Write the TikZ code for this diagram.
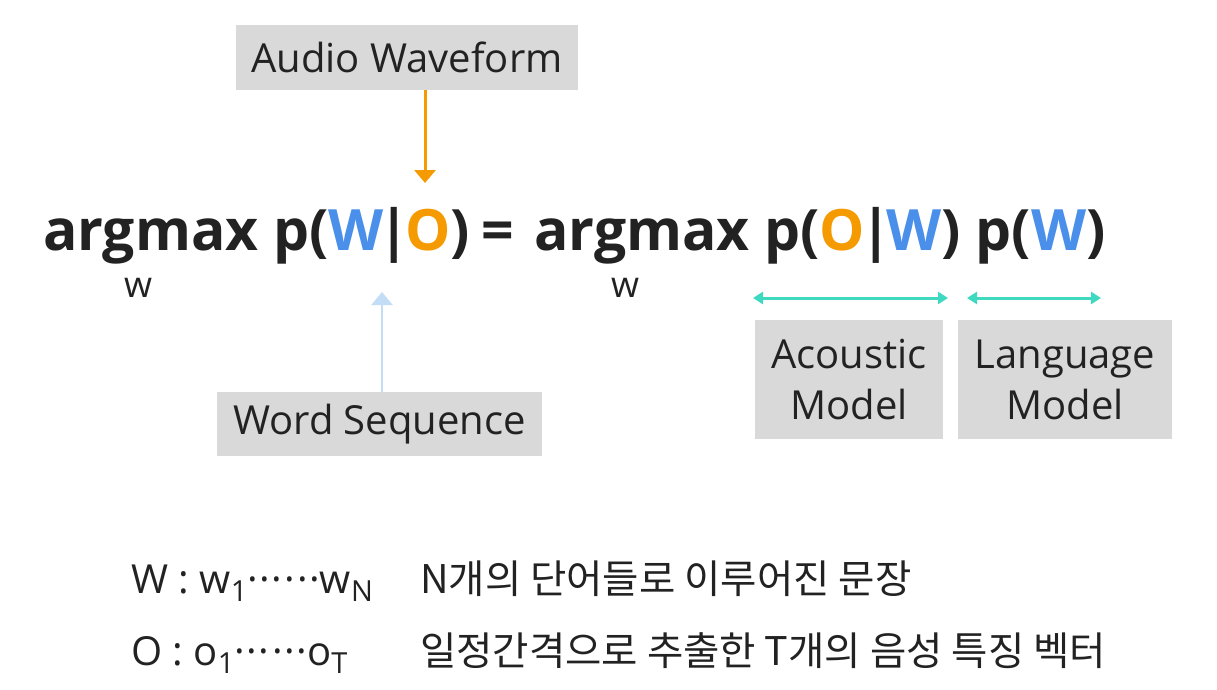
\documentclass[tikz,border=0pt]{standalone}
\usepackage{fontspec}
\setmainfont{Open Sans}
\newfontfamily\kofont{Noto Sans CJK KR}
\usetikzlibrary{arrows.meta}
\usetikzlibrary{positioning}
\definecolor{wblue}{HTML}{4A8FEA}
\definecolor{oorange}{HTML}{F59A00}
\definecolor{spanteal}{HTML}{3FD9C2}
\definecolor{paleblue}{HTML}{C2DDF5}
\definecolor{boxgray}{HTML}{D9D9D9}
\definecolor{ink}{HTML}{222222}
\newcommand{\Wc}{\textcolor{wblue}{W}}
\newcommand{\Oc}{\textcolor{oorange}{O}}
\newcommand{\given}{\kern-5pt|\kern-5pt}
\newcommand{\lowsub}[1]{\raisebox{-8pt}{\fontsize{29}{29}\selectfont #1}}
\newcommand{\dotrun}{\textperiodcentered\kern1.6pt\textperiodcentered\kern1.6pt\textperiodcentered\kern2.4pt\textperiodcentered\kern1.6pt\textperiodcentered\kern1.6pt\textperiodcentered}
\tikzset{
    labelbox/.style = {fill=boxgray, inner sep=0pt, align=center, text=ink, font=\fontsize{40}{51}\selectfont},
    eqnode/.style = {inner sep=0pt, anchor=base west, text=ink, font=\bfseries\fontsize{57}{57}\selectfont},
    subnode/.style = {inner sep=0pt, text=ink, font=\fontsize{36}{36}\selectfont},
    defnode/.style = {inner sep=0pt, anchor=base west, text=ink, font=\fontsize{40}{40}\selectfont},
    konode/.style = {inner sep=0pt, anchor=base west, text=ink, font=\kofont\fontsize{39.5}{39.5}\selectfont},
}

\begin{document}
\begin{tikzpicture}[x=1pt, y=-1pt]
\tikzset{
    arrowo/.style = {-{Triangle[width=21pt,length=13pt]}, line width=3pt, oorange},
    arrowb/.style = {-{Triangle[width=21pt,length=13pt]}, line width=2.2pt, paleblue},
    spanarrow/.style = {{Triangle[width=12pt,length=10pt]}-{Triangle[width=12pt,length=10pt]}, line width=3pt, spanteal},
}
\useasboundingbox[fill=white] (0,0) rectangle (1217,690);
%
\node[eqnode] (lhs) at (43,250) {argmax p(\Wc\given\Oc)};
\node[eqnode] (eqs) at (481,250) {=};
\node[eqnode] (rhs) at (534,250) {argmax p(\Oc\given\Wc) p(\Wc)};
\node[subnode] (w1) at (138,288) {w};
\node[subnode] (w2) at (625,288) {w};
%
\node[labelbox, minimum width=342pt, minimum height=65pt] (audio) at (407,57.5) {Audio Waveform};
\node[labelbox, minimum width=325pt, minimum height=64pt] (word) at (379.5,424) {Word Sequence};
\node[labelbox, minimum width=188pt, minimum height=119pt] (am) at (849,379.5) {Acoustic\\Model};
\node[labelbox, minimum width=214pt, minimum height=119pt] (lm) at (1065,379.5) {Language\\Model};
%
\coordinate (o-tip) at (425,183);
\coordinate (w-tip) at (382,292);
\coordinate (am-l) at (753,298);
\coordinate (am-r) at (948,298);
\coordinate (lm-l) at (967,298);
\coordinate (lm-r) at (1101,298);
%
\draw[arrowo] (audio.south -| o-tip) -- (o-tip);
\draw[arrowb] (word.north -| w-tip) -- (w-tip);
\draw[spanarrow] (am-l) -- (am-r);
\draw[spanarrow] (lm-l) -- (lm-r);
%
\node[defnode] (wdef) at (131,593) {W : w\lowsub{1}\dotrun w\lowsub{N}};
\node[defnode] (odef) at (131,665) {O : o\lowsub{1}\dotrun o\lowsub{T}};
\node[konode] (wtext) at (420,593) {N개의 단어들로 이루어진 문장};
\node[konode] (otext) at (420,665) {일정간격으로 추출한 T개의 음성 특징 벡터};
\end{tikzpicture}
\end{document}
